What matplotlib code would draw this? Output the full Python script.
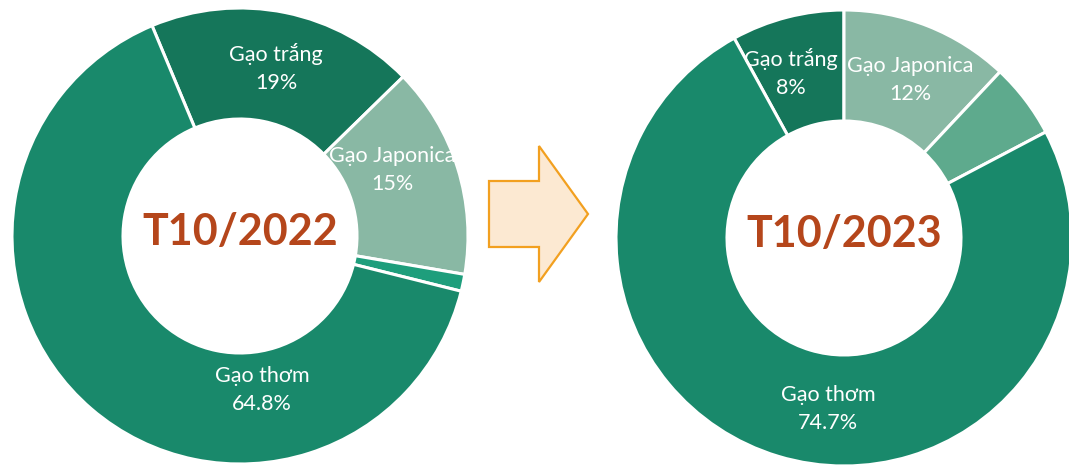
import matplotlib.pyplot as plt
from matplotlib.patches import Polygon

# rice export mix, share in %
categories = ['Gạo trắng', 'Gạo Japonica', 'Khác', 'Gạo thơm']
share_2022 = [19, 15, 1.2, 64.8]
share_2023 = [8, 12, 5.3, 74.7]
value_labels_2022 = ['19%', '15%', '', '64.8%']
value_labels_2023 = ['8%', '12%', '', '74.7%']

colors_2022 = ['#15765a', '#89b8a4', '#1e9e7c', '#19896b']
colors_2023 = ['#15765a', '#89b8a4', '#5eaa8d', '#19896b']

W, H = 1069, 466
fig = plt.figure(figsize=(W / 100, H / 100), dpi=100)
ax = fig.add_axes([0, 0, 1, 1])
fig.patch.set_facecolor('white')

FONT = 'Lato'
TITLE_COLOR = '#b5461b'
R_OUT, R_IN = 228, 117


def donut(cx, cy, values, colors, start, title, label_pos, value_labels):
    ax.pie(values, colors=colors, startangle=start, counterclock=False,
           center=(cx, H - cy), radius=R_OUT,
           wedgeprops=dict(width=R_OUT - R_IN, edgecolor='white', linewidth=2.2))
    ax.text(cx, H - cy + 4, title, ha='center', va='center',
            fontsize=31, fontweight='bold', color=TITLE_COLOR, family=FONT)
    for name, val, pos in zip(categories, value_labels, label_pos):
        if pos is None:
            continue
        ax.text(pos[0], H - pos[1], name + '\n' + val, ha='center', va='center',
                fontsize=15.5, color='white', family=FONT, linespacing=1.55)


donut(240, 236, share_2022, colors_2022, 112.7, 'T10/2022',
      [(276, 68), (392, 170), None, (262, 390)], value_labels_2022)
donut(844, 238, share_2023, colors_2023, 118.8, 'T10/2023',
      [(791, 73), (910, 80), None, (828, 409)], value_labels_2023)

# arrow between the two years
arrow_pts = [(489, 181), (539, 181), (539, 146), (588, 214),
             (539, 282), (539, 247), (489, 247)]
ax.add_patch(Polygon([(x, H - y) for x, y in arrow_pts], closed=True,
                     facecolor='#fce9d2', edgecolor='#f2a020', linewidth=1.6))

ax.set_xlim(0, W)
ax.set_ylim(0, H)
ax.set_aspect('equal')
ax.axis('off')

fig.savefig('out.png', dpi=100, facecolor='white')
